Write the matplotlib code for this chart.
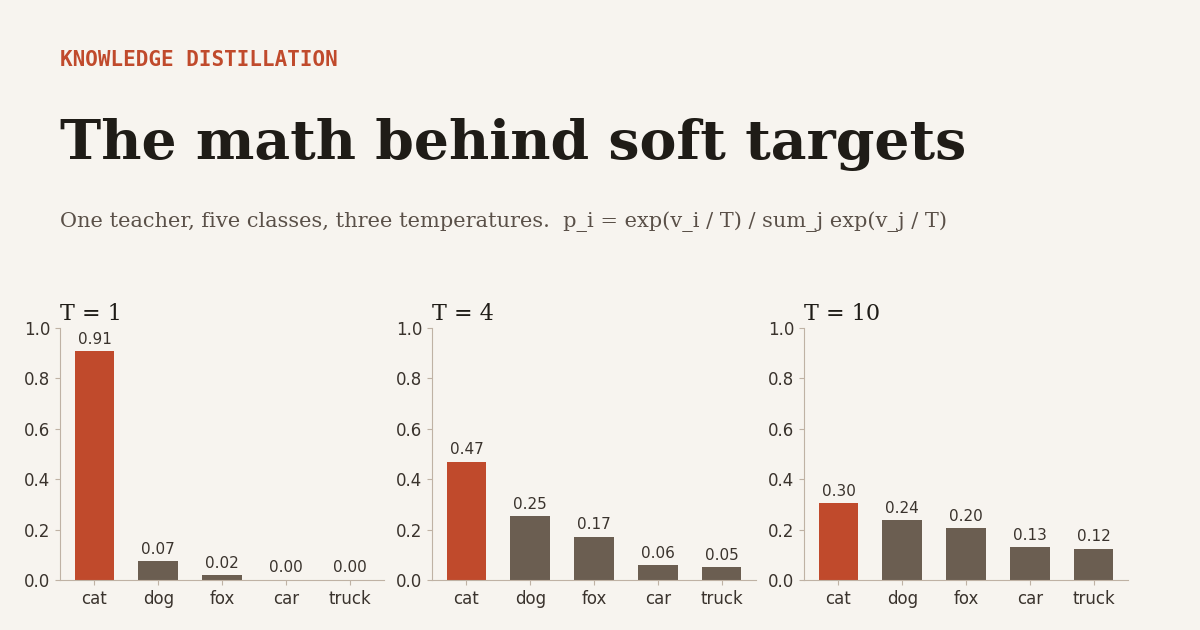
import matplotlib
matplotlib.use('Agg')
import matplotlib.pyplot as plt

classes = ['cat', 'dog', 'fox', 'car', 'truck']
temps = [1, 4, 10]
probs_t1 = [0.909, 0.074, 0.02, 0.001, 0.001]
probs_t4 = [0.470, 0.252, 0.172, 0.058, 0.050]
probs_t10 = [0.305, 0.237, 0.205, 0.131, 0.125]

bg = '#F7F4EF'
red = '#C04A2C'
brown = '#6B5E51'
ink = '#1F1C17'
grey = '#5A5048'
spine = '#BFB2A4'
tick_col = '#3A332D'

fig = plt.figure(figsize=(12, 6.3), dpi=100, facecolor=bg)

fig.text(0.05, 1 - 66 / 630, 'KNOWLEDGE DISTILLATION', family='DejaVu Sans Mono',
         weight='bold', fontsize=15, color=red, va='baseline')
fig.text(0.05, 1 - 159 / 630, 'The math behind soft targets', family='DejaVu Serif',
         weight='bold', fontsize=39.9, color=ink, va='baseline')
fig.text(0.05, 1 - 227 / 630,
         'One teacher, five classes, three temperatures.  p_i = exp(v_i / T) / sum_j exp(v_j / T)',
         family='DejaVu Serif', fontsize=15, color=grey, va='baseline')

lefts = [60, 432, 804]
for left, t, vals in zip(lefts, temps, [probs_t1, probs_t4, probs_t10]):
    ax = fig.add_axes([left / 1200, 1 - 580 / 630, 324 / 1200, 252 / 630])
    ax.set_facecolor(bg)
    colors = [red] + [brown] * (len(classes) - 1)
    bars = ax.bar(range(len(classes)), vals, width=0.62, color=colors)
    for b, v in zip(bars, vals):
        ax.text(b.get_x() + b.get_width() / 2, v + 0.017, f'{v:.2f}', ha='center',
                va='bottom', fontsize=11, color=tick_col)
    ax.set_xticks(range(len(classes)))
    ax.set_xticklabels(classes)
    ax.set_ylim(0, 1.0)
    ax.set_yticks([0, 0.2, 0.4, 0.6, 0.8, 1.0])
    ax.tick_params(labelsize=12, colors=tick_col)
    ax.tick_params(axis='both', color=spine)
    for s in ['top', 'right']:
        ax.spines[s].set_visible(False)
    for s in ['left', 'bottom']:
        ax.spines[s].set_color(spine)
    ax.set_title(f'T = {t}', loc='left', family='DejaVu Serif', fontsize=16, color=ink, pad=6)

fig.savefig('out.png', dpi=100, facecolor=bg)
